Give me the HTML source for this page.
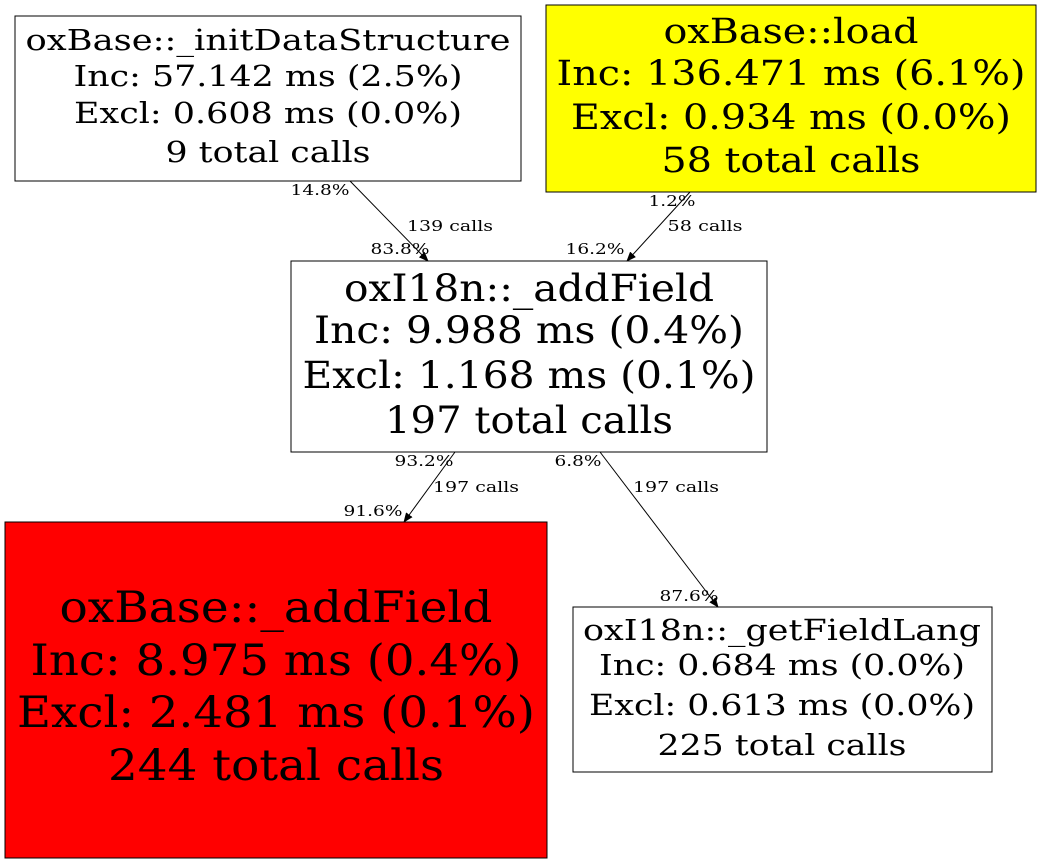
<!DOCTYPE html>
<html><head><meta charset="utf-8"><style>
html,body{margin:0;padding:0;background:#fff}
svg{display:block}
text{font-family:"DejaVu Serif","Liberation Serif",serif;fill:#000}
</style></head><body>
<svg width="1043" height="864" viewBox="0 0 1043 864" xmlns="http://www.w3.org/2000/svg">
<defs><marker id="a" markerWidth="10" markerHeight="8" refX="9" refY="4" orient="auto" markerUnits="userSpaceOnUse"><path d="M0,0 L10,4 L0,8 z" fill="#000"/></marker></defs>
<rect x="15" y="16" width="506" height="165" fill="#fff" stroke="#000"/>
<g text-anchor="middle" font-size="29" lengthAdjust="spacingAndGlyphs">
<text x="268" y="50" textLength="485" lengthAdjust="spacingAndGlyphs">oxBase::_initDataStructure</text>
<text x="268" y="86" textLength="389" lengthAdjust="spacingAndGlyphs">Inc: 57.142 ms (2.5%)</text>
<text x="268" y="123" textLength="388" lengthAdjust="spacingAndGlyphs">Excl: 0.608 ms (0.0%)</text>
<text x="268" y="162" textLength="205" lengthAdjust="spacingAndGlyphs">9 total calls</text>
</g>
<rect x="546" y="5" width="490" height="187" fill="#ffff00" stroke="#000"/>
<g text-anchor="middle" font-size="35">
<text x="791" y="43" textLength="255" lengthAdjust="spacingAndGlyphs">oxBase::load</text>
<text x="791" y="85" textLength="469" lengthAdjust="spacingAndGlyphs">Inc: 136.471 ms (6.1%)</text>
<text x="791" y="129" textLength="440" lengthAdjust="spacingAndGlyphs">Excl: 0.934 ms (0.0%)</text>
<text x="791" y="172" textLength="259" lengthAdjust="spacingAndGlyphs">58 total calls</text>
</g>
<rect x="291" y="261" width="476" height="191" fill="#fff" stroke="#000"/>
<g text-anchor="middle" font-size="37">
<text x="529" y="301" textLength="370" lengthAdjust="spacingAndGlyphs">oxI18n::_addField</text>
<text x="529" y="343" textLength="430" lengthAdjust="spacingAndGlyphs">Inc: 9.988 ms (0.4%)</text>
<text x="529" y="388" textLength="453" lengthAdjust="spacingAndGlyphs">Excl: 1.168 ms (0.1%)</text>
<text x="529" y="433" textLength="288" lengthAdjust="spacingAndGlyphs">197 total calls</text>
</g>
<rect x="5" y="522" width="542" height="336" fill="#ff0000" stroke="#000"/>
<g text-anchor="middle" font-size="43">
<text x="276" y="622" textLength="433" lengthAdjust="spacingAndGlyphs">oxBase::_addField</text>
<text x="276" y="675" textLength="491" lengthAdjust="spacingAndGlyphs">Inc: 8.975 ms (0.4%)</text>
<text x="276" y="727" textLength="518" lengthAdjust="spacingAndGlyphs">Excl: 2.481 ms (0.1%)</text>
<text x="276" y="780" textLength="336" lengthAdjust="spacingAndGlyphs">244 total calls</text>
</g>
<rect x="573" y="607" width="419" height="165" fill="#fff" stroke="#000"/>
<g text-anchor="middle" font-size="29">
<text x="782" y="640" textLength="398" lengthAdjust="spacingAndGlyphs">oxI18n::_getFieldLang</text>
<text x="782" y="675" textLength="366" lengthAdjust="spacingAndGlyphs">Inc: 0.684 ms (0.0%)</text>
<text x="782" y="715" textLength="386" lengthAdjust="spacingAndGlyphs">Excl: 0.613 ms (0.0%)</text>
<text x="782" y="755" textLength="249" lengthAdjust="spacingAndGlyphs">225 total calls</text>
</g>
<g stroke="#000" stroke-width="1" marker-end="url(#a)">
<line x1="350" y1="181" x2="428" y2="261"/>
<line x1="690" y1="192" x2="627" y2="261"/>
<line x1="455" y1="452" x2="404" y2="522"/>
<line x1="600" y1="452" x2="718" y2="607"/>
</g>
<g font-size="15" text-anchor="middle">
<text x="320" y="195" textLength="59" lengthAdjust="spacingAndGlyphs">14.8%</text>
<text x="450" y="231" textLength="86" lengthAdjust="spacingAndGlyphs">139 calls</text>
<text x="400" y="254" textLength="59" lengthAdjust="spacingAndGlyphs">83.8%</text>
<text x="672" y="206" textLength="47" lengthAdjust="spacingAndGlyphs">1.2%</text>
<text x="705" y="231" textLength="75" lengthAdjust="spacingAndGlyphs">58 calls</text>
<text x="595" y="254" textLength="59" lengthAdjust="spacingAndGlyphs">16.2%</text>
<text x="424" y="466" textLength="59" lengthAdjust="spacingAndGlyphs">93.2%</text>
<text x="476" y="492" textLength="86" lengthAdjust="spacingAndGlyphs">197 calls</text>
<text x="373" y="516" textLength="59" lengthAdjust="spacingAndGlyphs">91.6%</text>
<text x="578" y="466" textLength="47" lengthAdjust="spacingAndGlyphs">6.8%</text>
<text x="676" y="492" textLength="86" lengthAdjust="spacingAndGlyphs">197 calls</text>
<text x="689" y="601" textLength="59" lengthAdjust="spacingAndGlyphs">87.6%</text>
</g>
</svg>
</body></html>
